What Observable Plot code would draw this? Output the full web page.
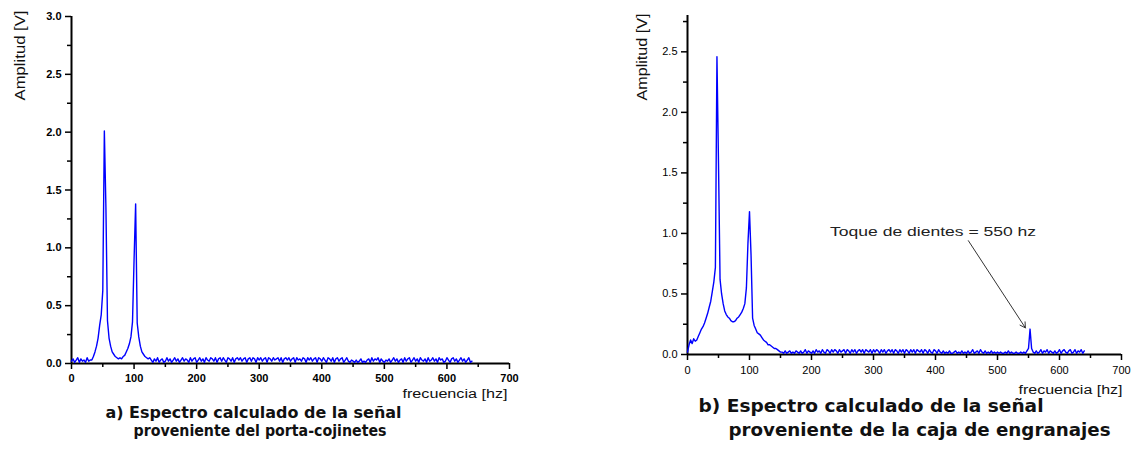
<!DOCTYPE html>
<html>
<head>
<meta charset="utf-8">
<script src="https://cdn.jsdelivr.net/npm/d3@7"></script>
<script src="https://cdn.jsdelivr.net/npm/@observablehq/plot@0.6"></script>
<style>
  html, body { margin: 0; padding: 0; background: #fff; color: #000; }
  #wrap { position: relative; width: 1133px; height: 449px; background: #fff; overflow: hidden; }
  #wrap svg { position: absolute; top: 0; font-family: 'Liberation Sans', Arial, sans-serif; overflow: visible; }
</style>
</head>
<body>
<div id="wrap"></div>
<script>
// ---------- DATA ----------
const binHz = 2.5; // FFT bin width (Hz), bins from 0 to 640 Hz

// a) porta-cojinetes spectrum amplitudes [V]
const ampA = [
  .02,.04,.01,.03,.05,.01,.04,.02,.03,.01,
  .05,.02,.03,.03,.06,.1,.15,.22,.33,.42,
  .63,2.01,1.35,.37,.22,.15,.1,.08,.06,.05,
  .04,.05,.04,.06,.07,.1,.13,.17,.23,.36,
  .9,1.38,.35,.23,.15,.1,.08,.06,.05,.04,
  .05,
  .03,.01,.04,.02,.05,.01,.03,.04,.01,.02,.05,.02,.04,.01,.03,.05,.02,.04,.01,.03,
  .05,.02,.04,.03,.01,.05,.02,.04,.05,.01,.03,.05,.02,.04,.01,.05,.03,.02,.05,.04,
  .02,.05,.01,.04,.05,.02,.05,.03,.01,.05,.04,.02,.05,.01,.04,.05,.03,.05,.02,.04,
  .05,.01,.04,.05,.02,.05,.04,.01,.05,.03,.05,.02,.04,.05,.01,.05,.04,.02,.05,.03,
  .04,.05,.02,.05,.01,.04,.05,.03,.05,.02,.04,.05,.01,.05,.03,.04,.02,.05,.04,.01,
  .05,.03,.05,.02,.04,.05,.01,.05,.04,.02,.05,.03,.01,.05,.04,.02,.05,.01,.04,.05,
  .02,.04,.05,.01,.03,.05,.02,.01,.03,.02,.01,.03,.01,.02,.04,.01,.02,.01,.03,.04,
  .01,.05,.02,.04,.03,.05,.01,.04,.02,.01,.03,.02,.04,.01,.03,.05,.02,.04,.01,.03,
  .04,.01,.05,.02,.04,.05,.01,.03,.05,.02,.04,.01,.05,.03,.02,.04,.01,.05,.02,.03,
  .05,.02,.04,.01,.05,.03,.04,.01,.02,.05,.03,.01,.04,.05,.02,.04,.01,.03,.05,.02,
  .04,.01,.03,.05,.01,.02
];

// b) caja de engranajes spectrum amplitudes [V]
const ampB = [
  .02,.08,.12,.09,.13,.11,.12,.15,.18,.21,
  .23,.26,.3,.34,.39,.44,.52,.6,.72,2.46,
  1.58,.62,.5,.42,.36,.33,.31,.3,.28,.27,
  .27,.28,.3,.31,.33,.35,.38,.42,.55,.92,
  1.18,.82,.3,.24,.21,.18,.17,.16,.14,.12,
  .11,.1,.08,.08,.07,.06,.05,.05,.04,.03,
  .02,
  .02,.01,.03,.01,.02,.03,.01,.02,.01,.03,.02,.01,.03,.01,.02,.04,.01,.03,.02,.01,
  .03,.01,.04,.02,.03,.01,.04,.02,.01,.04,.03,.01,.04,.02,.04,.03,.01,.04,.02,.03,
  .04,.01,.04,.03,.01,.04,.02,.04,.01,.03,.04,.02,.04,.01,.04,.03,.02,.04,.01,.04,
  .02,.04,.03,.01,.04,.02,.04,.01,.03,.04,.02,.04,.01,.04,.03,.01,.04,.02,.04,.01,
  .04,.03,.01,.04,.02,.04,.01,.04,.03,.02,.04,.01,.04,.03,.01,.04,.02,.01,.04,.03,
  .01,.04,.02,.01,.03,.01,.02,.01,.03,.01,.01,.02,.03,.01,.02,.01,.03,.01,.02,.01,
  .03,.01,.02,.04,.01,.02,.03,.01,.04,.02,.01,.03,.01,.02,.01,.03,.01,.02,.01,.02,
  .01,.02,.01,.01,.02,.01,.03,.01,.02,.01,.01,.02,.01,.01,.02,.01,.02,.01,.03,.05,
  .21,.05,.02,.01,.03,.01,.02,.04,.01,.03,.02,.04,.01,.03,.02,.01,.03,.01,.02,.04,
  .01,.03,.04,.02,.01,.03,.04,.01,.02,.04,.01,.03,.02,.04,.01,.03
];

// ticks
const xMajor = [0, 100, 200, 300, 400, 500, 600, 700];
const xMinor = [50, 150, 250, 350, 450, 550, 650];
const yMajorA = [0, 0.5, 1.0, 1.5, 2.0, 2.5, 3.0];
const yMinorA = [0.25, 0.75, 1.25, 1.75, 2.25, 2.75];
const yMajorB = [0, 0.5, 1.0, 1.5, 2.0, 2.5];
const yMinorB = [0.25, 0.75, 1.25, 1.75, 2.25, 2.75];
const yDomainA = [0, 3.0];
const yDomainB = [0, 2.8];
const xDomain = [0, 700];

// texts
const xLabel = "frecuencia [hz]";
const yLabel = "Amplitud [V]";
const captionA = ["a) Espectro calculado de la señal", "proveniente del porta-cojinetes"];
const captionB = ["b) Espectro calculado de la señal", "proveniente de la caja de engranajes"];
const noteText = ["Toque de dientes = 550 hz"];
const noteX = [230], noteY = [1.01];
const arrowFrom = {x: 453, y: 0.94}, arrowTo = {x: 545, y: 0.22};

// ---------- BUILD ----------
const toRows = amp => amp.map((v, i) => ({f: i * binHz, a: v}));
const fmt = d3.format(".1f");
const wrap = document.getElementById("wrap");

function fit(svg, str, len) {
  d3.select(svg).selectAll("text")
    .filter(function () { return this.textContent === str; })
    .attr("textLength", len).attr("lengthAdjust", "spacingAndGlyphs");
}

function panel(o) {
  const marks = [
    Plot.ruleY([0], {stroke: "#000", strokeWidth: 2}),
    Plot.ruleX([0], {stroke: "#000", strokeWidth: 2}),
    Plot.axisX(xMajor, {tickSize: 6, tickPadding: o.xPad, tickFormat: d => String(d), label: null,
      fontSize: 11, fontWeight: o.tickWeight, strokeWidth: 1.5}),
    Plot.axisX(xMinor, {tickSize: 4, tickFormat: () => "", label: null, strokeWidth: 1.5}),
    Plot.axisY(o.yMajor, {tickSize: 6, tickPadding: 4, tickFormat: fmt, label: null,
      fontSize: 11, fontWeight: o.tickWeight, strokeWidth: 1.5}),
    Plot.axisY(o.yMinor, {tickSize: 4, tickFormat: () => "", label: null, strokeWidth: 1.5}),
    Plot.line(toRows(o.amp), {x: "f", y: "a", stroke: "#0000ff", strokeWidth: 1.4}),
    Plot.text([xLabel], {text: d => d, frameAnchor: "bottom-right", textAnchor: "end",
      dx: o.xlDx, dy: o.xlDy, fontSize: 12, fill: "#111"}),
    Plot.text([yLabel], {text: d => d, frameAnchor: "top-left", textAnchor: "end", rotate: -90,
      dx: o.ylDx, dy: o.ylDy, fontSize: 14, fill: "#111"}),
    Plot.text([o.caption[0]], {text: d => d, frameAnchor: "bottom-left", textAnchor: "start",
      dx: o.c1[0], dy: o.c1[1], fontSize: o.capSize, fontWeight: "bold", fontFamily: "'DejaVu Sans'", fill: "#111"}),
    Plot.text([o.caption[1]], {text: d => d, frameAnchor: "bottom-left", textAnchor: "start",
      dx: o.c2[0], dy: o.c2[1], fontSize: o.capSize, fontWeight: "bold", fontFamily: "'DejaVu Sans'", fill: "#111"}),
    ...(o.extra || [])
  ];
  const svg = Plot.plot({
    width: o.width, height: 449,
    marginLeft: o.ml, marginRight: o.mr, marginTop: o.mt, marginBottom: o.mb,
    x: {domain: xDomain},
    y: {domain: o.yDomain},
    marks
  });
  svg.style.left = o.left + "px";
  wrap.appendChild(svg);
  fit(svg, xLabel, o.xlLen);
  fit(svg, yLabel, o.ylLen);
  fit(svg, o.caption[0], o.c1[2]);
  fit(svg, o.caption[1], o.c2[2]);
  return svg;
}

panel({
  left: 0, width: 566, ml: 71, mr: 57, mt: 16, mb: 86,
  amp: ampA, yDomain: yDomainA, yMajor: yMajorA, yMinor: yMinorA,
  tickWeight: "bold", xPad: 5,
  xlDx: -2, xlDy: 34, xlLen: 105,
  ylDx: -56, ylDy: -6, ylLen: 90,
  caption: captionA, capSize: 16,
  c1: [34, 54, 296], c2: [62, 72, 253]
});

const svgB = panel({
  left: 566, width: 567, ml: 121, mr: 12, mt: 15, mb: 95,
  amp: ampB, yDomain: yDomainB, yMajor: yMajorB, yMinor: yMinorB,
  tickWeight: "normal", xPad: 6,
  xlDx: 1, xlDy: 39, xlLen: 104,
  ylDx: -50, ylDy: -2, ylLen: 87,
  caption: captionB, capSize: 17,
  c1: [11, 57, 345], c2: [41, 81, 382],
  extra: [
    Plot.text(noteText, {x: () => noteX[0], y: () => noteY[0], text: d => d, textAnchor: "start",
      fontSize: 13, fill: "#222"}),
    Plot.arrow([0], {x1: () => arrowFrom.x, y1: () => arrowFrom.y, x2: () => arrowTo.x, y2: () => arrowTo.y,
      stroke: "#333", strokeWidth: 1, headLength: 9})
  ]
});
fit(svgB, noteText[0], 206);
</script>
</body>
</html>
